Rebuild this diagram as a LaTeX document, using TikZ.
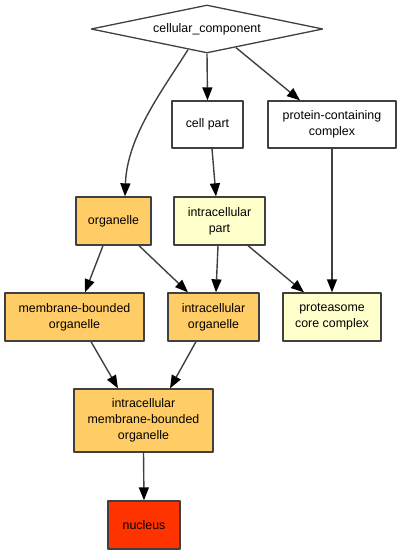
\documentclass[tikz,border=0pt]{standalone}
\usepackage{fontspec}
\setmainfont{Liberation Sans}
\usetikzlibrary{shapes.geometric,arrows.meta}
\definecolor{orgfill}{RGB}{255,204,102}
\definecolor{partfill}{RGB}{255,255,204}
\definecolor{nucfill}{RGB}{255,51,0}
\definecolor{linecol}{RGB}{64,64,64}
\begin{document}
\begin{tikzpicture}[line join=bevel,
  term/.style={draw=linecol,line width=1.3bp,rectangle,align=center,inner sep=0pt,
    font=\fontsize{12.4bp}{16bp}\selectfont},
  edge/.style={draw=linecol,line width=1.4bp,-{Triangle[length=13bp,width=10bp,black]}}]
  \useasboundingbox (0bp,0bp) rectangle (401bp,555bp);
%%
  % Node: cellular_component
  \node (cc) [diamond,draw=linecol,line width=1.3bp,aspect=4.9,inner sep=0pt,
    minimum width=232bp,minimum height=48bp,font=\fontsize{12.4bp}{16bp}\selectfont]
    at (207bp,526bp) {cellular\_component};
  % Node: cell part
  \node (cellpart) [term,minimum width=71bp,minimum height=47bp] at (207.5bp,430.5bp) {cell part};
  % Node: protein-containing complex
  \node (pcc) [term,minimum width=128bp,minimum height=47bp] at (332bp,430.5bp) {protein-containing\\complex};
  % Node: organelle
  \node (organelle) [term,fill=orgfill,minimum width=75bp,minimum height=48bp] at (113.5bp,334bp) {organelle};
  % Node: intracellular part
  \node (ipart) [term,fill=partfill,minimum width=91bp,minimum height=48bp] at (219.5bp,334bp) {intracellular\\part};
  % Node: membrane-bounded organelle
  \node (mbo) [term,fill=orgfill,minimum width=139bp,minimum height=48bp] at (74.5bp,238bp) {membrane-bounded\\organelle};
  % Node: intracellular organelle
  \node (io) [term,fill=orgfill,minimum width=91bp,minimum height=48bp] at (213.5bp,238bp) {intracellular\\organelle};
  % Node: proteasome core complex
  \node (proteasome) [term,fill=partfill,minimum width=98bp,minimum height=48bp] at (332bp,238bp) {proteasome\\core complex};
  % Node: intracellular membrane-bounded organelle
  \node (imbo) [term,fill=orgfill,minimum width=139bp,minimum height=63bp] at (143.5bp,134.5bp) {intracellular\\membrane-bounded\\organelle};
  % Node: nucleus
  \node (nucleus) [term,fill=nucfill,minimum width=72bp,minimum height=48bp] at (144bp,30bp) {nucleus};
%
  % Edge: cellular_component -> cell part
  \draw [edge] (cc.south) -- (cellpart.north);
  % Edge: cellular_component -> protein-containing complex
  \draw [edge] ([xshift=29bp,yshift=6bp]cc.south) -- ([xshift=-32bp]pcc.north);
  % Edge: cellular_component -> organelle
  \draw [edge] ([xshift=-19bp,yshift=4bp]cc.south) .. controls +(-25bp,-40bp) and +(2bp,60bp) .. ([xshift=11.5bp]organelle.north);
  % Edge: cell part -> intracellular part
  \draw [edge] ([xshift=4.5bp]cellpart.south) -- ([xshift=-3.5bp]ipart.north);
  % Edge: protein-containing complex -> proteasome core complex
  \draw [edge] (pcc.south) -- (proteasome.north);
  % Edge: organelle -> membrane-bounded organelle
  \draw [edge] ([xshift=-10.5bp]organelle.south) -- ([xshift=10.5bp]mbo.north);
  % Edge: organelle -> intracellular organelle
  \draw [edge] ([xshift=25.5bp]organelle.south) -- ([xshift=-25.5bp]io.north);
  % Edge: intracellular part -> intracellular organelle
  \draw [edge] ([xshift=-1.5bp]ipart.south) -- ([xshift=2.5bp]io.north);
  % Edge: intracellular part -> proteasome core complex
  \draw [edge] ([xshift=28.5bp]ipart.south) -- ([xshift=-28bp]proteasome.north);
  % Edge: membrane-bounded organelle -> intracellular membrane-bounded organelle
  \draw [edge] ([xshift=16.5bp]mbo.south) -- ([xshift=-25.5bp]imbo.north);
  % Edge: intracellular organelle -> intracellular membrane-bounded organelle
  \draw [edge] ([xshift=-17.5bp]io.south) -- ([xshift=26.5bp]imbo.north);
  % Edge: intracellular membrane-bounded organelle -> nucleus
  \draw [edge] (imbo.south) -- (nucleus.north);
%
\end{tikzpicture}
\end{document}
